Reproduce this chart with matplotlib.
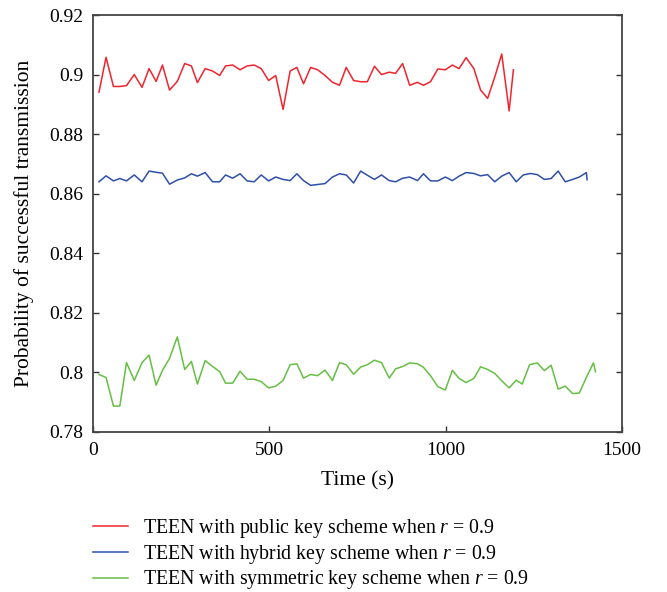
import matplotlib
matplotlib.use("Agg")
import matplotlib.pyplot as plt

plt.rcParams['font.family'] = ['Liberation Serif', 'DejaVu Serif']
plt.rcParams['mathtext.fontset'] = 'custom'
plt.rcParams['mathtext.rm'] = 'Liberation Serif'
plt.rcParams['mathtext.it'] = 'Liberation Serif:italic'

time_common = [17, 37, 58, 76, 95, 117, 139, 159, 179, 197, 217, 239, 260, 279, 296,
               318, 339, 359, 376, 396, 417, 437, 457, 477, 498, 518, 539, 559, 578,
               597, 617, 637, 658, 679, 699, 718, 739, 759, 778, 798, 818, 840, 858,
               878, 898, 920, 937, 957, 978, 999, 1019, 1038, 1058, 1080, 1099, 1119,
               1139, 1159, 1180]

time_public = time_common + [1192]
time_hybrid = time_common + [1200, 1220, 1240, 1260, 1280, 1299, 1319, 1339, 1360,
                             1379, 1399, 1401]
time_symmetric = time_common + [1200, 1217, 1238, 1260, 1280, 1299, 1319, 1339, 1360,
                                1379, 1400, 1419, 1425]

public = [0.8941, 0.9058, 0.8960, 0.8960, 0.8963, 0.9000, 0.8957, 0.9020, 0.8977,
          0.9032, 0.8948, 0.8977, 0.9037, 0.9029, 0.8973, 0.9020, 0.9012, 0.8997,
          0.9029, 0.9032, 0.9016, 0.9029, 0.9032, 0.9020, 0.8980, 0.8997, 0.8883,
          0.9012, 0.9024, 0.8969, 0.9024, 0.9016, 0.8997, 0.8974, 0.8964, 0.9024,
          0.8980, 0.8976, 0.8976, 0.9028, 0.9000, 0.9008, 0.9004, 0.9037, 0.8964,
          0.8974, 0.8964, 0.8976, 0.9019, 0.9016, 0.9032, 0.9020, 0.9057, 0.9020,
          0.8948, 0.8920, 0.8991, 0.9069, 0.8878, 0.9016]

hybrid = [0.8640, 0.8660, 0.8643, 0.8651, 0.8643, 0.8663, 0.8640, 0.8676, 0.8672,
          0.8669, 0.8632, 0.8646, 0.8653, 0.8667, 0.8659, 0.8671, 0.8640, 0.8640,
          0.8663, 0.8652, 0.8667, 0.8643, 0.8640, 0.8663, 0.8643, 0.8656, 0.8648,
          0.8644, 0.8667, 0.8644, 0.8628, 0.8631, 0.8634, 0.8656, 0.8667, 0.8663,
          0.8636, 0.8676, 0.8662, 0.8648, 0.8663, 0.8644, 0.8640, 0.8652, 0.8656,
          0.8644, 0.8667, 0.8643, 0.8643, 0.8656, 0.8644, 0.8659, 0.8671, 0.8668,
          0.8660, 0.8664, 0.8640, 0.8659, 0.8671,
          0.8640, 0.8663, 0.8668, 0.8664, 0.8648, 0.8651, 0.8676, 0.8640, 0.8648,
          0.8656, 0.8671, 0.8647]

symmetric = [0.7993, 0.7983, 0.7887, 0.7887, 0.8033, 0.7973, 0.8033, 0.8058, 0.7957,
             0.8007, 0.8047, 0.8119, 0.8010, 0.8037, 0.7961, 0.8040, 0.8020, 0.8003,
             0.7964, 0.7964, 0.8004, 0.7977, 0.7977, 0.7969, 0.7948, 0.7954, 0.7973,
             0.8026, 0.8029, 0.7981, 0.7993, 0.7989, 0.8008, 0.7973, 0.8033, 0.8026,
             0.7994, 0.8018, 0.8026, 0.8041, 0.8033, 0.7981, 0.8012, 0.8020, 0.8032,
             0.8029, 0.8017, 0.7989, 0.7952, 0.7941, 0.8007, 0.7980, 0.7966, 0.7980,
             0.8019, 0.8010, 0.7997, 0.7972, 0.7948,
             0.7974, 0.7961, 0.8026, 0.8032, 0.8006, 0.8024, 0.7944, 0.7954, 0.7929,
             0.7931, 0.7986, 0.8032, 0.8002]

labels = ["TEEN with public key scheme when $r$ = 0.9",
          "TEEN with hybrid key scheme when $r$ = 0.9",
          "TEEN with symmetric key scheme when $r$ = 0.9"]
colors = ["#f0242e", "#2f4fa8", "#66bf45"]

xticks = [0, 500, 1000, 1500]
yticks = [0.78, 0.80, 0.82, 0.84, 0.86, 0.88, 0.90, 0.92]
ytick_labels = ["0.78", "0.8", "0.82", "0.84", "0.86", "0.88", "0.9", "0.92"]

W, H = 667, 592
fig = plt.figure(figsize=(W / 100, H / 100), dpi=100)
ax = fig.add_axes([93 / W, 1 - 432 / H, (622 - 93) / W, (432 - 15) / H])

lines = []
for t, v, c, lab in zip([time_public, time_hybrid, time_symmetric],
                        [public, hybrid, symmetric], colors, labels):
    ln, = ax.plot(t, v, color=c, lw=1.1, label=lab)
    lines.append(ln)

ax.set_xlim(0, 1500)
ax.set_ylim(0.78, 0.92)
ax.set_xticks(xticks)
ax.set_xticklabels([str(x) for x in xticks])
ax.set_yticks(yticks)
ax.set_yticklabels(ytick_labels)
ax.tick_params(direction='in', length=4, width=1, labelsize=14, pad=7,
               right=True, top=False, colors='#333333', labelcolor='black')
for s in ax.spines.values():
    s.set_color('#444444')
    s.set_linewidth(1.3)

ax.set_xlabel("Time (s)", fontsize=15.5, labelpad=9)
ax.set_ylabel("Probability of successful transmission", fontsize=15.5, labelpad=11)

fig.legend(handles=lines, labels=labels, loc='center left',
           bbox_to_anchor=(93 / W, 1 - 554 / H), frameon=False, fontsize=14.3,
           borderpad=0, borderaxespad=0, handlelength=1.75, handletextpad=0.75,
           labelspacing=0.15)

fig.savefig("out.png", dpi=100)
